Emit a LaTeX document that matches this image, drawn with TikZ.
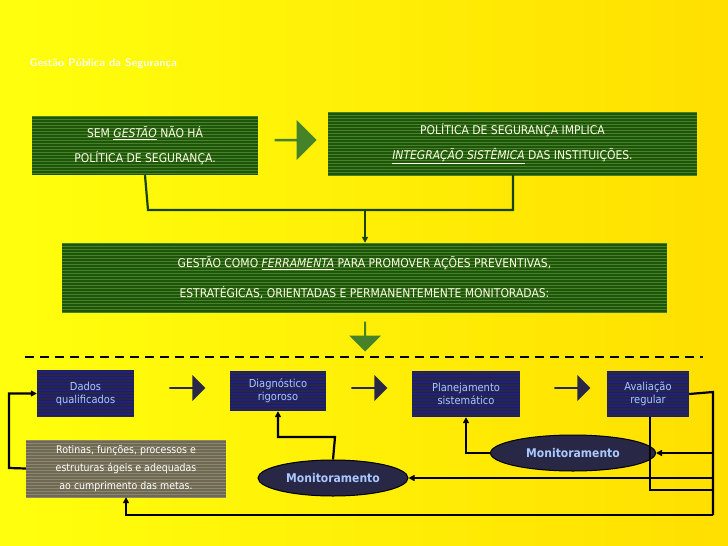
\documentclass[tikz,border=0pt]{standalone}
\usepackage{fontspec}
\setmainfont{DejaVu Sans Condensed}
\usetikzlibrary{shapes.geometric,shapes.arrows,arrows.meta}
\definecolor{gdark}{RGB}{30,85,10}
\definecolor{glite}{RGB}{70,130,40}
\definecolor{navy}{RGB}{40,40,70}
\definecolor{ntext}{RGB}{170,200,255}
\definecolor{olivegray}{RGB}{110,105,80}
\tikzset{
  stripes/.style={path picture={
    \foreach \k in {0,3,...,80}{\draw[#1,line width=0.8pt] ([yshift=-\k pt]path picture bounding box.north west) -- ([yshift=-\k pt]path picture bounding box.north east);}}},
  gbox/.style={fill=gdark,stripes=glite,text=white!90!yellow,align=center,font=\fontsize{12}{25}\selectfont,inner sep=0pt},
  nbox/.style={fill=navy,stripes=navy!60!blue,text=ntext,align=center,font=\fontsize{11}{13}\selectfont,inner sep=0pt},
  mon/.style={ellipse,fill=navy,draw=black,line width=1pt,text=ntext,font=\bfseries\fontsize{12}{14}\selectfont,inner sep=0pt},
  conn/.style={line width=2.2pt,black},
  gconn/.style={line width=2.2pt,gdark!80!black},
  tip/.style={-{Triangle[length=6pt,width=6pt]}},
  barrow/.style={single arrow,fill=#1,single arrow head extend=3pt,minimum height=36pt,minimum width=25pt,inner sep=0pt,shape border rotate=0}
}
\begin{document}
\begin{tikzpicture}[x=1pt,y=-1pt]
\shade[left color=yellow!95!white,right color=orange!25!yellow] (0,0) rectangle (728,546);
\useasboundingbox (0,0) rectangle (728,546);
\node[anchor=west,text=white!92!yellow,font=\sffamily\bfseries\fontsize{11}{13}\selectfont] (title) at (26,64) {Gestão Pública da Segurança};

\node[gbox,minimum width=226pt,minimum height=59pt] (b1) at (145,145.5) {SEM \underline{\textit{GESTÃO}} NÃO HÁ\\POLÍTICA DE SEGURANÇA.};
\node[gbox,minimum width=369pt,minimum height=63pt] (b2) at (512.5,143.5) {POLÍTICA DE SEGURANÇA IMPLICA\\\underline{\textit{INTEGRAÇÃO SISTÊMICA}} DAS INSTITUIÇÕES.};
\node[barrow=glite,minimum height=42pt,minimum width=40pt] (a1) at (295,140) {};
\node[gbox,minimum width=605pt,minimum height=70pt,font=\fontsize{12}{30}\selectfont] (b3) at (364.5,278) {GESTÃO COMO \underline{\textit{FERRAMENTA}} PARA PROMOVER AÇÕES PREVENTIVAS,\\ESTRATÉGICAS, ORIENTADAS E PERMANENTEMENTE MONITORADAS:};
\coordinate (j) at (365,210);
\draw[gconn] (b1.south) -- (148,210) -| ([xshift=0pt]513,175);
\draw[gconn,tip] (j) -- (b3.north -| j);
\node[barrow=glite,shape border rotate=270,minimum height=30pt,minimum width=32pt] (a2) at (365,336) {};

\draw[conn,dash pattern=on 9pt off 6pt] (25,357) -- (703,357);

\node[nbox,minimum width=97pt,minimum height=47pt] (d) at (85.5,393.5) {Dados\\qualificados};
\node[nbox,minimum width=96pt,minimum height=40pt] (dg) at (278,391) {Diagnóstico\\rigoroso};
\node[nbox,minimum width=108pt,minimum height=46pt] (p) at (466,394) {Planejamento\\sistemático};
\node[nbox,minimum width=82pt,minimum height=46pt] (av) at (648,394) {Avaliação\\regular};
\node[barrow=navy,minimum height=36pt,minimum width=26pt] (n1) at (187,388) {};
\node[barrow=navy,minimum height=36pt,minimum width=26pt] (n2) at (369,388) {};
\node[barrow=navy,minimum height=36pt,minimum width=26pt] (n3) at (572,388) {};
\node[fill=olivegray,stripes=olivegray!80!white,text=white,align=center,font=\fontsize{10.5}{18}\selectfont,minimum width=200pt,minimum height=57pt,inner sep=0pt] (r) at (126,468.5) {Rotinas, funções, processos e\\estruturas ágeis e adequadas\\ao cumprimento das metas.};
\node[mon,minimum width=150pt,minimum height=36pt] (m1) at (333,478) {Monitoramento};
\node[mon,minimum width=165pt,minimum height=36pt] (m2) at (573,453) {Monitoramento};

\draw[conn,tip] (r.west) -- (9,468) |- (d.west);
\draw[conn,tip] (m1.north) -- (335,437) -| (dg.south);
\draw[conn,tip] (m2.west) -| (p.south);
\draw[conn] (av.east) -- (713,392) -- (713,515);
\draw[conn,tip] (713,515) -| (r.south);
\draw[conn,tip] (713,453) -- (m2.east);
\draw[conn,tip] (713,478) -- (m1.east);
\draw[conn] (650,417) -- (650,490) -- (713,490);
\end{tikzpicture}
\end{document}
